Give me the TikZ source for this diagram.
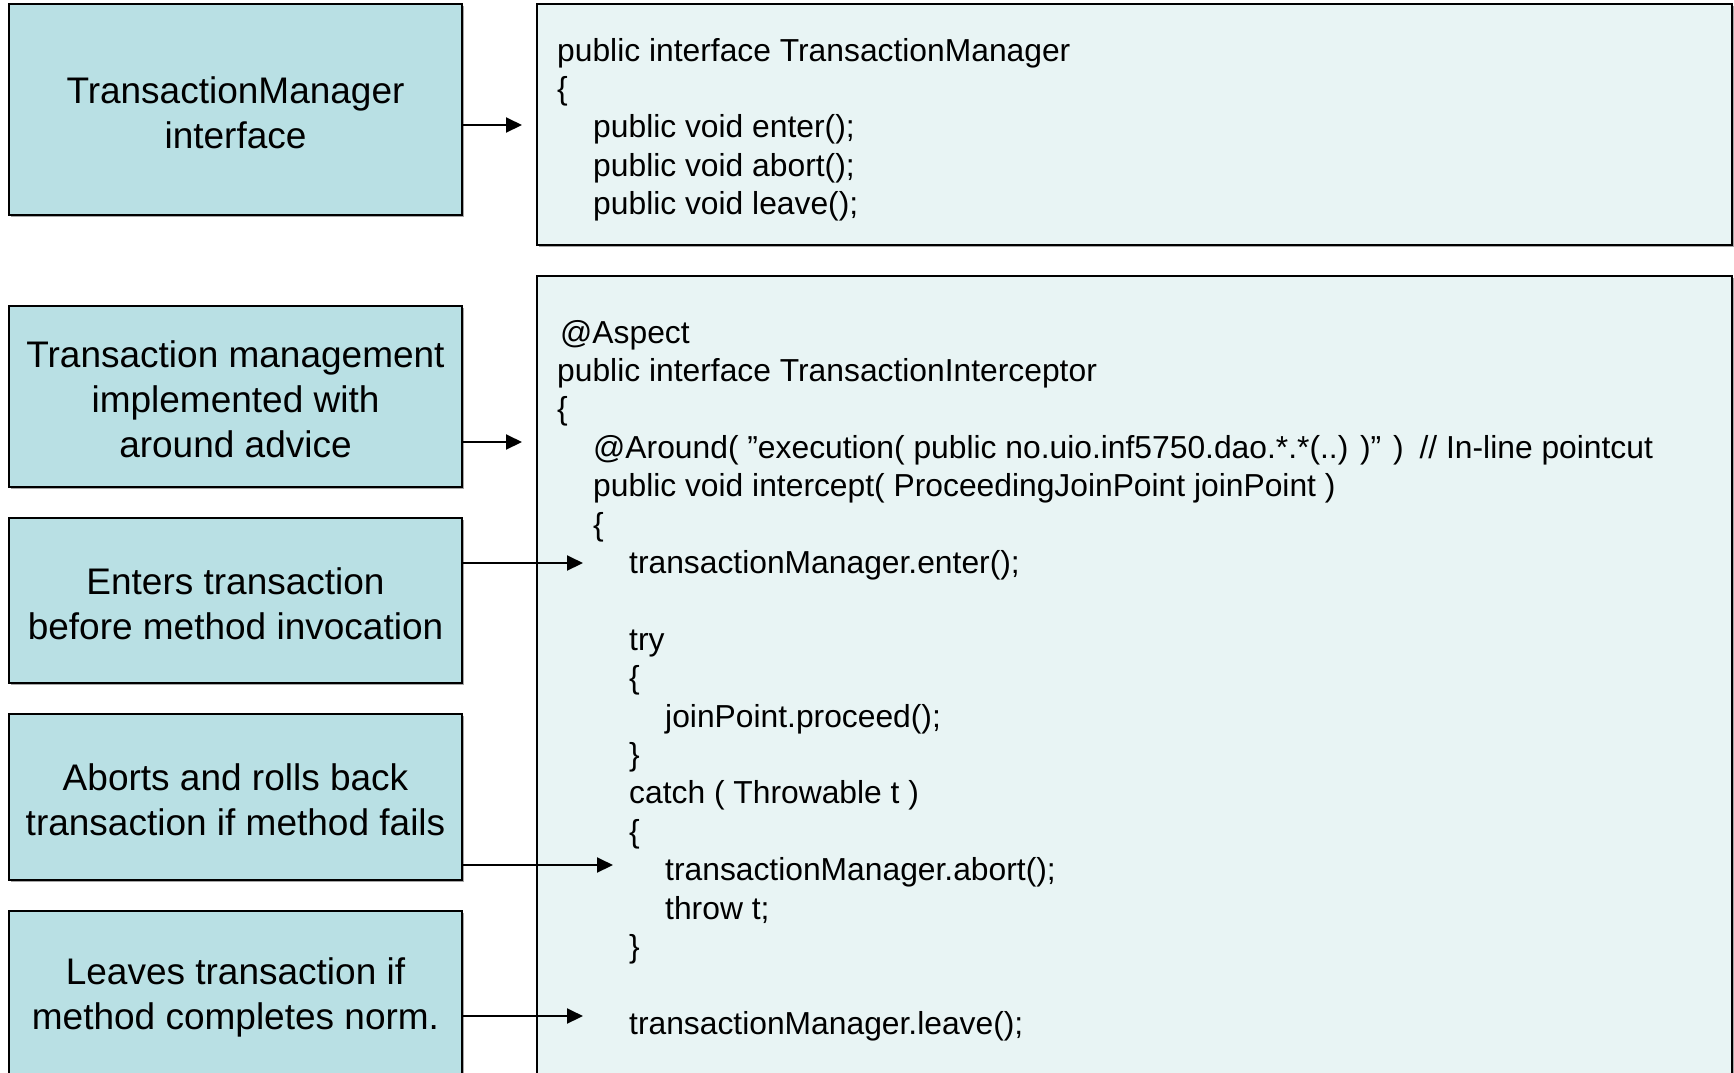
\documentclass[tikz,border=0pt]{standalone}
\usepackage{fontspec}
\setmainfont{Liberation Sans}
\usetikzlibrary{arrows.meta,shadows}

\definecolor{notefill}{RGB}{185,224,228}
\definecolor{codefill}{RGB}{232,244,244}

\begin{document}
\begin{tikzpicture}[x=1pt,y=-1pt,
  boxshadow/.style={drop shadow={shadow xshift=1.5pt,shadow yshift=-1.5pt,fill=gray!70,opacity=1}},
  notebox/.style={draw=black,line width=2pt,fill=notefill,boxshadow,
    minimum width=453pt,inner sep=0pt},
  notetext/.style={align=center,inner sep=0pt,yshift=-3pt,
    font=\fontsize{37}{45}\selectfont},
  codebox/.style={draw=black,line width=2pt,fill=codefill,boxshadow,inner sep=0pt},
  codeline/.style={anchor=base west,inner sep=0pt,font=\fontsize{31.8}{38.4}\selectfont},
  link/.style={line width=2pt,-{Triangle[length=16pt,width=15pt]}}
]
\useasboundingbox (0,0) rectangle (1734,1072);

% code panels
\node[codebox,minimum width=1195pt,minimum height=241pt] (ifc) at (1134.5,124.5) {};
\node[codebox,minimum width=1195pt,minimum height=824pt] (asp) at (1134.5,688) {};

% interface listing
\node[codeline] (a0) at (557,61)    {public interface TransactionManager};
\node[codeline] (a1) at (557,99.4)  {\{};
\node[codeline] (a2) at (593,137.8) {public void enter();};
\node[codeline] (a3) at (593,176.2) {public void abort();};
\node[codeline] (a4) at (593,214.6) {public void leave();};

% aspect listing
\node[codeline] (c0)  at (560,343)   {@Aspect};
\node[codeline] (c1)  at (557,381.4) {public interface TransactionInterceptor};
\node[codeline] (c2)  at (557,419.8) {\{};
\node[codeline] (c3)  at (593,458.2) {@Around( ”execution( public no.uio.inf5750.dao.*.*(..) )” )\hspace{0.5em}// In-line pointcut};
\node[codeline] (c4)  at (593,496.6) {public void intercept( ProceedingJoinPoint joinPoint )};
\node[codeline] (c5)  at (593,535)   {\{};
\node[codeline] (c6)  at (629,573.4) {transactionManager.enter();};
\node[codeline] (c8)  at (629,650.2) {try};
\node[codeline] (c9)  at (629,688.6) {\{};
\node[codeline] (c10) at (665,727)   {joinPoint.proceed();};
\node[codeline] (c11) at (629,765.4) {\}};
\node[codeline] (c12) at (629,803.8) {catch ( Throwable t )};
\node[codeline] (c13) at (629,842.2) {\{};
\node[codeline] (c14) at (665,880.6) {transactionManager.abort();};
\node[codeline] (c15) at (665,919)   {throw t;};
\node[codeline] (c16) at (629,957.4) {\}};
\node[codeline] (c18) at (629,1034.2){transactionManager.leave();};

% explanation boxes
\node[notebox,minimum height=211pt] (n1) at (235.5,109.5) {};
\node[notebox,minimum height=181pt] (n2) at (235.5,396.5) {};
\node[notebox,minimum height=165pt] (n3) at (235.5,600.5) {};
\node[notebox,minimum height=166pt] (n4) at (235.5,797)   {};
\node[notebox,minimum height=167pt] (n5) at (235.5,994.5) {};

\node[notetext] (l1) at (n1.center) {TransactionManager\\interface};
\node[notetext] (l2) at (n2.center) {Transaction management\\implemented with\\around advice};
\node[notetext] (l3) at (n3.center) {Enters transaction\\before method invocation};
\node[notetext] (l4) at (n4.center) {Aborts and rolls back\\transaction if method fails};
\node[notetext] (l5) at (n5.center) {Leaves transaction if\\method completes norm.};

% arrow targets
\coordinate (t1) at (522,125);
\coordinate (t2) at (522,442);
\coordinate (t3) at (583,563);
\coordinate (t4) at (613,865);
\coordinate (t5) at (583,1016);

\draw[link] (n1.east |- t1) -- (t1);
\draw[link] (n2.east |- t2) -- (t2);
\draw[link] (n3.east |- t3) -- (t3);
\draw[link] (n4.east |- t4) -- (t4);
\draw[link] (n5.east |- t5) -- (t5);
\end{tikzpicture}
\end{document}
